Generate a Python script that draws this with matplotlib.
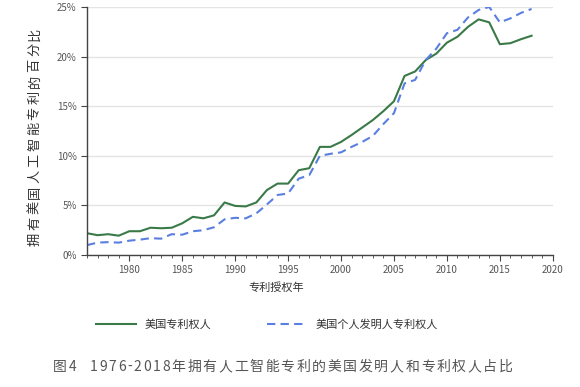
import matplotlib.pyplot as plt
import numpy as np
from matplotlib.ticker import MultipleLocator, PercentFormatter

plt.rcParams['font.family'] = ['Noto Sans CJK SC', 'DejaVu Sans']

years = list(range(1976, 2019))
assignees = [2.2, 2.0, 2.1, 1.95, 2.4, 2.4, 2.75, 2.7, 2.75, 3.2,
             3.85, 3.7, 4.0, 5.3, 4.95, 4.9, 5.3, 6.55, 7.2, 7.2,
             8.55, 8.75, 10.9, 10.9, 11.4, 12.1, 12.85, 13.6, 14.5, 15.5,
             18.05, 18.5, 19.65, 20.3, 21.4, 22.0, 23.0, 23.75, 23.45, 21.25,
             21.35, 21.75, 22.1]
inventors = [1.0, 1.25, 1.3, 1.25, 1.45, 1.55, 1.7, 1.65, 2.1, 2.05,
             2.4, 2.5, 2.8, 3.6, 3.75, 3.7, 4.2, 5.1, 6.05, 6.2,
             7.7, 8.05, 10.0, 10.2, 10.35, 10.9, 11.4, 12.0, 13.2, 14.3,
             17.3, 17.65, 19.65, 20.8, 22.35, 22.7, 23.95, 24.7, 25.0, 23.45,
             23.85, 24.4, 24.8]

caption = '图4  1976-2018年拥有人工智能专利的美国发明人和专利权人占比'
ylab = '拥有美国人工智能专利的百分比'

fig = plt.figure(figsize=(5.8, 3.87), dpi=100)
ax = fig.add_axes([0.15, 0.341, 0.803, 0.641])

ax.plot(years, assignees, color='#3a7a48', lw=1.5, label='美国专利权人')
ax.plot(years, inventors, color='#5a7fe0', lw=1.5, ls=(0, (4, 2.5)), label='美国个人发明人专利权人')

ax.set_xlim(1976, 2020)
ax.set_ylim(0, 25)
ax.xaxis.set_major_locator(MultipleLocator(5))
ax.xaxis.set_minor_locator(MultipleLocator(1))
ax.yaxis.set_major_locator(MultipleLocator(5))
ax.yaxis.set_major_formatter(PercentFormatter(decimals=0))
ax.grid(axis='y', color='#e4e4e4', lw=1)
ax.set_axisbelow(True)
for s in ['top', 'right']:
    ax.spines[s].set_visible(False)
for s in ['left', 'bottom']:
    ax.spines[s].set_color('#444444')
    ax.spines[s].set_linewidth(1)
ax.tick_params(axis='both', which='major', labelsize=7, colors='#444444', labelcolor='#555555', length=4)
ax.tick_params(axis='x', which='minor', length=2.5, colors='#444444')

ax.set_xlabel('专利授权年', fontsize=8, color='#333333')
ax.xaxis.set_label_coords(0.406, -0.11)

fig.legend(loc='center', bbox_to_anchor=(0.46, 0.16), ncol=2, frameon=False,
           fontsize=8, handlelength=3.6, columnspacing=5, labelcolor='#333333')

# letter-spaced text, placed char by char (pixels)
renderer = fig.canvas.get_renderer()

def advance(ch, size):
    if ord(ch) > 0x2E80:
        return size * 100 / 72
    t = fig.text(0, 0, ch, fontsize=size)
    w = t.get_window_extent(renderer).width
    t.remove()
    if ch == ' ':
        w = size * 100 / 72 * 0.3
    return w

def spaced(s, x0, y0, size, gap, color, vertical=False):
    pos = x0 if not vertical else y0
    for ch in s:
        if vertical:
            fig.text(x0 / 580, pos / 387, ch, fontsize=size, color=color,
                     rotation=90, ha='center', va='bottom')
        else:
            fig.text(pos / 580, y0 / 387, ch, fontsize=size, color=color,
                     ha='left', va='center')
        pos += advance(ch, size) + gap

spaced(caption, 53, 387 - 367, 10, 1.7, '#555555')
spaced(ylab, 35, 387 - 246, 9.5, 2.6, '#333333', vertical=True)

fig.savefig('out.png', dpi=100)
